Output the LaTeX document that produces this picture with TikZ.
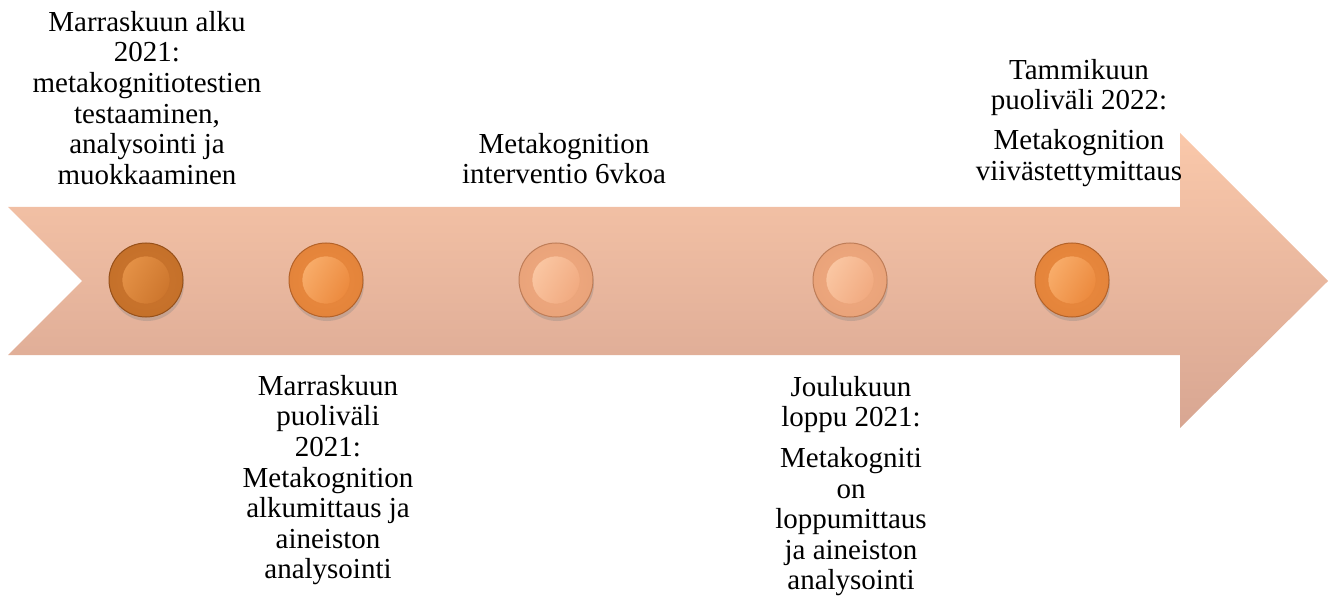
\documentclass[tikz,border=0pt]{standalone}
\usepackage{fontspec}
\setmainfont{Liberation Serif}
\usetikzlibrary{positioning,shadows}

\definecolor{shafttop}{RGB}{250,200,170}
\definecolor{shaftbot}{RGB}{216,166,146}
\definecolor{beaddark}{RGB}{205,118,45}
\definecolor{beaddarkhi}{RGB}{228,145,70}
\definecolor{beaddarklo}{RGB}{150,80,25}
\definecolor{beadmid}{RGB}{236,138,62}
\definecolor{beadmidhi}{RGB}{248,172,105}
\definecolor{beadmidlo}{RGB}{180,98,40}
\definecolor{beadlight}{RGB}{241,170,128}
\definecolor{beadlighthi}{RGB}{250,198,162}
\definecolor{beadlightlo}{RGB}{190,125,88}

\begin{document}
\begin{tikzpicture}[
    x=1pt, y=-1pt,
    every node/.style={font=\fontsize{29}{30.6}\selectfont, inner sep=0pt},
    lbl/.style={align=center, anchor=north},
    bead/.style={circle, minimum size=74pt, draw=#1lo, line width=1pt,
      inner color=#1, outer color=#1!85!#1lo,
      drop shadow={shadow xshift=1pt, shadow yshift=-4pt, opacity=0.3}},
    cap/.style={circle, minimum size=48pt, left color=#1hi, right color=#1,
      shading angle=60, draw=#1!88!#1lo, line width=0.5pt},
  ]
  \useasboundingbox (0,0) rectangle (1331,596);

  % Arrow
  \path[top color=shafttop, bottom color=shaftbot]
    (8,207) -- (1180,207) -- (1180,133) -- (1328,281) -- (1180,428)
    -- (1180,355) -- (8,355) -- (82,281) -- cycle;

  % Beads
  \node[bead=beaddark] (d1) at (146,280) {};
  \node[cap=beaddark] (d1c) at (d1) {};
  \node[bead=beadmid] (d2) at (326,280) {};
  \node[cap=beadmid] (d2c) at (d2) {};
  \node[bead=beadlight] (d3) at (556,280) {};
  \node[cap=beadlight] (d3c) at (d3) {};
  \node[bead=beadlight] (d4) at (850,280) {};
  \node[cap=beadlight] (d4c) at (d4) {};
  \node[bead=beadmid] (d5) at (1072,280) {};
  \node[cap=beadmid] (d5c) at (d5) {};

  % Labels
  \node[lbl] (t1) at (147,11) {Marraskuun alku\\2021:\\metakognitiotestien\\testaaminen,\\analysointi ja\\muokkaaminen};
  \node[lbl] (t2) at (328,375) {Marraskuun\\puoliväli\\2021:\\Metakognition\\alkumittaus ja\\aineiston\\analysointi};
  \node[lbl] (t3) at (564,133) {Metakognition\\interventio 6vkoa};
  \node[lbl] (t4) at (851,376) {Joulukuun\\loppu 2021:\\[10pt]Metakogniti\\on\\loppumittaus\\ja aineiston\\analysointi};
  \node[lbl] (t5) at (1079,59) {Tammikuun\\puoliväli 2022:\\[9pt]Metakognition\\viivästettymittaus};
\end{tikzpicture}
\end{document}
